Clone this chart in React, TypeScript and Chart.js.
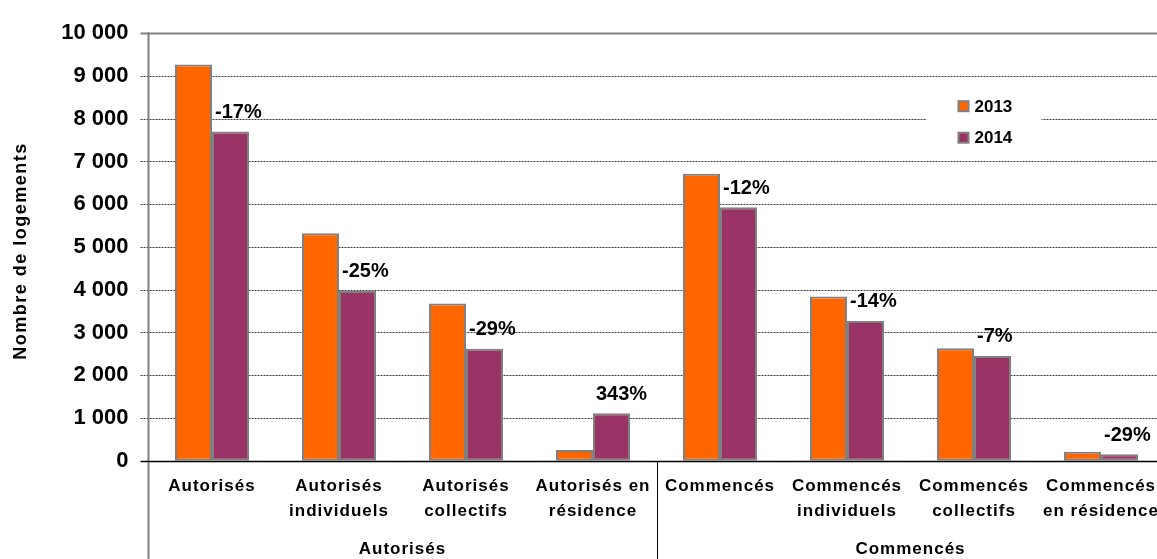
import React, { useEffect, useRef } from "react";
import { Chart, registerables } from "chart.js";

Chart.register(...registerables);

// ---- data ----
const categoryLines: string[][] = [
  ["Autorisés"],
  ["Autorisés", "individuels"],
  ["Autorisés", "collectifs"],
  ["Autorisés en", "résidence"],
  ["Commencés"],
  ["Commencés", "individuels"],
  ["Commencés", "collectifs"],
  ["Commencés", "en résidence"],
];
const groupNames = ["Autorisés", "Commencés"];
const groupSizes = [4, 4];
const seriesNames = ["2013", "2014"];
const values2013 = [9270, 5320, 3680, 250, 6710, 3840, 2630, 210];
const values2014 = [7700, 3970, 2620, 1110, 5930, 3270, 2450, 150];
const changeLabels = ["-17%", "-25%", "-29%", "343%", "-12%", "-14%", "-7%", "-29%"];
const yAxisTitle = "Nombre de logements";
const yMin = 0;
const yMax = 10000;
const yStep = 1000;

// ---- styles ----
const FONT = "'Liberation Sans', Arial, Helvetica, sans-serif";
const ORANGE = "#FF6600";
const PURPLE = "#993366";
const BAR_BORDER = "#808080";
const CANVAS_W = 1170;
const CANVAS_H = 559;

const fmt = (v: number) => String(v).replace(/\B(?=(\d{3})+(?!\d))/g, " ");

const decor = {
  id: "decor",
  beforeDatasetsDraw(chart: any) {
    const { ctx, chartArea: a, scales } = chart;
    const y = scales.y;
    ctx.save();
    y.ticks.forEach((t: any) => {
      if (t.value === 0) return;
      const py = Math.round(y.getPixelForValue(t.value)) + 0.5;
      if (t.value === yMax) {
        ctx.setLineDash([]);
        ctx.strokeStyle = "#808080";
        ctx.lineWidth = 2;
      } else {
        ctx.setLineDash([2, 1]);
        ctx.strokeStyle = "#3a3a3a";
        ctx.lineWidth = 1;
      }
      ctx.beginPath();
      ctx.moveTo(a.left - 8, py);
      ctx.lineTo(a.right, py);
      ctx.stroke();
    });
    ctx.restore();
  },
  afterDatasetsDraw(chart: any) {
    const { ctx, chartArea: a, scales } = chart;
    const x = scales.x;
    const y = scales.y;
    const H = chart.height;
    ctx.save();
    ctx.setLineDash([]);

    // y axis line
    ctx.strokeStyle = "#808080";
    ctx.lineWidth = 2;
    ctx.beginPath();
    ctx.moveTo(a.left, a.top - 1);
    ctx.lineTo(a.left, H);
    ctx.stroke();

    // zero line
    const y0 = Math.round(y.getPixelForValue(0)) + 0.5;
    ctx.strokeStyle = "#000";
    ctx.lineWidth = 1.5;
    ctx.beginPath();
    ctx.moveTo(a.left - 8, y0);
    ctx.lineTo(a.right, y0);
    ctx.stroke();

    // group separators and group labels
    let start = 0;
    groupSizes.forEach((n, gi) => {
      const first = x.getPixelForValue(start);
      const last = x.getPixelForValue(start + n - 1);
      if (gi > 0) {
        const sx = Math.round((x.getPixelForValue(start - 1) + first) / 2) + 0.5;
        ctx.strokeStyle = "#000";
        ctx.lineWidth = 1;
        ctx.beginPath();
        ctx.moveTo(sx, y0);
        ctx.lineTo(sx, H);
        ctx.stroke();
      }
      ctx.fillStyle = "#000";
      ctx.font = `bold 17px ${FONT}`;
      (ctx as any).letterSpacing = "1px";
      ctx.textAlign = "center";
      ctx.textBaseline = "middle";
      ctx.fillText(groupNames[gi], (first + last) / 2, a.bottom + 89);
      start += n;
    });

    // category labels
    ctx.font = `bold 17px ${FONT}`;
    (ctx as any).letterSpacing = "1px";
    ctx.textAlign = "center";
    ctx.textBaseline = "middle";
    ctx.fillStyle = "#000";
    categoryLines.forEach((lines, i) => {
      const px = x.getPixelForValue(i);
      lines.forEach((ln, li) => {
        ctx.fillText(ln, px, a.bottom + 25.5 + li * 25.5);
      });
    });

    // y axis title
    ctx.save();
    ctx.translate(21, (a.top + a.bottom) / 2 + 4);
    ctx.rotate(-Math.PI / 2);
    ctx.font = `bold 18px ${FONT}`;
    (ctx as any).letterSpacing = "1.5px";
    ctx.textAlign = "center";
    ctx.textBaseline = "middle";
    ctx.fillText(yAxisTitle, 0, 0);
    ctx.restore();
    (ctx as any).letterSpacing = "0px";

    // change labels
    const meta = chart.getDatasetMeta(1);
    ctx.font = `bold 20px ${FONT}`;
    ctx.textAlign = "left";
    ctx.textBaseline = "middle";
    ctx.fillStyle = "#000";
    meta.data.forEach((el: any, i: number) => {
      const p = el.getProps(["x", "y", "width"], true);
      ctx.fillText(changeLabels[i], p.x - p.width / 2 + 3, p.y - 19);
    });

    // legend
    const lx = a.left + 778;
    const ly = a.top + 45;
    ctx.fillStyle = "#fff";
    ctx.fillRect(lx, ly, 115, 78);
    chart.data.datasets.forEach((ds: any, i: number) => {
      const cy = a.top + 73 + i * 31.5;
      const bx = a.left + 810;
      ctx.fillStyle = ds.backgroundColor;
      ctx.fillRect(bx, cy - 5, 10, 10);
      ctx.strokeStyle = "#808080";
      ctx.lineWidth = 2;
      ctx.strokeRect(bx, cy - 5, 10, 10);
      ctx.fillStyle = "#000";
      ctx.font = `bold 17px ${FONT}`;
      ctx.textAlign = "left";
      ctx.textBaseline = "middle";
      ctx.fillText(ds.label, bx + 16, cy + 1);
    });

    ctx.restore();
  },
};

export default function App() {
  const ref = useRef<HTMLCanvasElement | null>(null);

  useEffect(() => {
    if (!ref.current) return;
    const chart = new Chart(ref.current, {
      type: "bar",
      data: {
        labels: categoryLines.map((l) => l.join(" ")),
        datasets: [
          {
            label: seriesNames[0],
            data: values2013,
            backgroundColor: ORANGE,
            borderColor: BAR_BORDER,
            borderWidth: 2,
            borderSkipped: false,
            categoryPercentage: 0.583,
            barPercentage: 1,
          },
          {
            label: seriesNames[1],
            data: values2014,
            backgroundColor: PURPLE,
            borderColor: BAR_BORDER,
            borderWidth: 2,
            borderSkipped: false,
            categoryPercentage: 0.583,
            barPercentage: 1,
          },
        ],
      },
      options: {
        responsive: false,
        animation: false,
        devicePixelRatio: 1,
        layout: { padding: { top: 28.7, right: 5.5, left: 0, bottom: 0 } },
        plugins: {
          legend: { display: false },
          tooltip: { enabled: false },
          title: { display: false },
        },
        scales: {
          x: {
            ticks: { display: false },
            grid: { display: false, drawTicks: false },
            border: { display: false },
            afterFit: (s: any) => {
              s.height = 98.3;
            },
          },
          y: {
            min: yMin,
            max: yMax,
            ticks: {
              stepSize: yStep,
              padding: 20,
              color: "#000",
              font: { family: FONT, size: 22, weight: "bold" },
              callback: (v: any) => fmt(Number(v)),
            },
            grid: { display: false, drawTicks: false },
            border: { display: false },
            afterFit: (s: any) => {
              s.width = 148.5;
            },
          },
        },
      },
      plugins: [decor],
    } as any);
    return () => chart.destroy();
  }, []);

  return (
    <div
      style={{
        position: "fixed",
        left: 0,
        top: 0,
        width: 1157,
        height: 559,
        overflow: "hidden",
        background: "#fff",
      }}
    >
      <canvas
        ref={ref}
        width={CANVAS_W}
        height={CANVAS_H}
        style={{ display: "block", width: CANVAS_W, height: CANVAS_H }}
      />
    </div>
  );
}
